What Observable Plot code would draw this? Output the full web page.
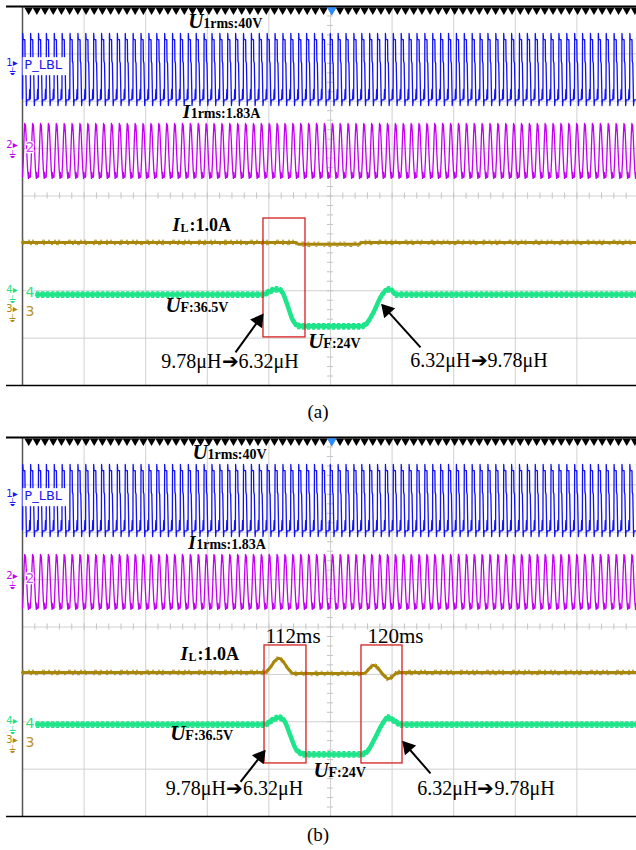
<!DOCTYPE html>
<html><head><meta charset="utf-8">
<script src="https://cdn.jsdelivr.net/npm/d3@7"></script>
<script src="https://cdn.jsdelivr.net/npm/@observablehq/plot@0.6"></script>
<style>
body{margin:0;background:#fff;width:636px;overflow:hidden}
svg{display:block}
.cap{font-family:"Liberation Serif","Times New Roman",serif;font-size:19px;text-align:center;width:636px}
g[aria-label="sub"] text{letter-spacing:1.2px}
g[aria-label="lbl"] text{letter-spacing:2.4px}
</style></head><body>
<div id="pa"></div><div class="cap" style="height:39px;line-height:39px">(a)</div>
<div id="pb"></div><div class="cap" style="height:24px;line-height:24px">(b)</div>
<script>
// ---- screen: 10 x 8 divisions, right edge cropped ----
const X_MAX = 614 / 61.6;
const PX_X = 61.6, PX_Y = 47.4;
const gridX = [1,2,3,4,5,6,7,8,9];
const gridY = [-3,-2,-1,0,1,2,3];

const cyclePeriod = 0.128;
const ch1Cycle = [[0.00,2.05],[0.03,3.43],[0.08,3.30],[0.30,3.30],[0.33,2.85],[0.40,2.80],[0.44,2.45],[0.50,1.91],[0.56,2.03],[0.86,2.03],[0.92,2.25]];
const ch2Cycle = [[0.00,0.40],[0.10,0.75],[0.20,1.25],[0.28,1.53],[0.33,1.38],[0.38,1.50],[0.45,1.30],[0.55,0.90],[0.65,0.55],[0.75,0.37],[0.80,0.50],[0.86,0.39]];

// ---- slow channels: key points (div, div) ----
const ilA = [[0,-0.98],[4.44,-0.98],[4.48,-1.02],[5.47,-1.02],[5.50,-0.98],[X_MAX,-0.98]];
const ufA = [[0.23,-2.08],[3.91,-2.08],[4.00,-2.02],[4.12,-1.97],[4.20,-2.00],[4.30,-2.30],[4.38,-2.60],[4.48,-2.74],[4.55,-2.75],[5.49,-2.75],[5.58,-2.70],[5.70,-2.45],[5.82,-2.12],[5.94,-1.97],[6.00,-2.00],[6.06,-2.08],[X_MAX,-2.08]];
const ilB = [[0,-0.96],[3.93,-0.96],[4.16,-0.66],[4.40,-0.98],[5.54,-0.98],[5.70,-0.81],[5.94,-1.09],[6.10,-0.96],[X_MAX,-0.96]];
const ufB = [[0.23,-2.06],[3.93,-2.06],[4.05,-1.97],[4.16,-1.91],[4.25,-1.98],[4.35,-2.30],[4.45,-2.60],[4.59,-2.69],[5.49,-2.69],[5.60,-2.62],[5.72,-2.35],[5.84,-2.05],[5.93,-1.91],[6.02,-1.97],[6.15,-2.06],[X_MAX,-2.06]];

// ---- annotations ----
const boxesA = [{x1:3.912,x2:4.594,y1:-2.985,y2:-0.475}];
const boxesB = [{x1:3.929,x2:4.610,y1:-2.880,y2:-0.390},{x1:5.503,x2:6.169,y1:-2.880,y2:-0.390}];
const uLabelsA = [{x:2.69,y:3.555,sub:"1rms:40V"},{x:2.32,y:-2.458,sub:"F:36.5V"},{x:4.64,y:-3.217,sub:"F:24V"}];
const uLabelsB = [{x:2.76,y:3.555,sub:"1rms:40V"},{x:2.40,y:-2.395,sub:"F:36.5V"},{x:4.724,y:-3.175,sub:"F:24V"}];
const iLabelsA = [{x:2.60,y:1.656,sub:"1rms:1.83A"}];
const iLabelsB = [{x:2.69,y:1.656,sub:"1rms:1.83A"}];
const ilLabelA = [{x:2.435,y:-0.749}];
const ilLabelB = [{x:2.565,y:-0.707}];
const noteA = [{x:3.369,y:-3.639,t:"9.78μH➔6.32μH"},{x:7.411,y:-3.618,t:"6.32μH➔9.78μH"}];
const noteB = [{x:3.442,y:-3.555,t:"9.78μH➔6.32μH"},{x:7.524,y:-3.555,t:"6.32μH➔9.78μH"}];
const arrowsA = [{x1:3.458,y1:-3.302,x2:3.880,y2:-2.542},{x1:6.461,y1:-3.196,x2:5.860,y2:-2.331}];
const arrowsB = [{x1:3.539,y1:-3.270,x2:3.912,y2:-2.648},{x1:6.623,y1:-3.091,x2:6.201,y2:-2.458}];
const timesB = [{x:4.391,y:-0.327,t:"112ms"},{x:6.055,y:-0.327,t:"120ms"}];
const channels = [
  {n:"1",y:2.76,c:"#1a1af0",inner:null},
  {n:"2",y:1.02,c:"#c400f0",inner:"#c850f0"},
  {n:"4",y:-2.04,c:"#22dd88",inner:"#30dd88"},
  {n:"3",y:-2.44,c:"#b08a10",inner:"#b89230"}
];

function tile(cycle, x0, x1) {
  const pts = [];
  for (let c = x0; c < x1; c += cyclePeriod)
    for (const [p, v] of cycle) { const x = c + p * cyclePeriod; if (x <= x1) pts.push({x, y: v}); }
  return pts;
}
const pts = a => a.map(([x, y]) => ({x, y}));
function head(a) {
  const dx = (a.x2 - a.x1) * PX_X, dy = (a.y2 - a.y1) * PX_Y, len = Math.hypot(dx, dy), f = 1 - 5 / len;
  return {x: a.x1 + (a.x2 - a.x1) * f, y: a.y1 + (a.y2 - a.y1) * f, r: Math.atan2(dx, dy) * 180 / Math.PI};
}
const serif = "Liberation Serif";

function panel(P) {
  const uf = pts(P.uf), il = pts(P.il);
  return Plot.plot({
    width: 636, height: 392, marginTop: 6, marginBottom: 7, marginLeft: 22, marginRight: 0,
    x: {domain: [0, X_MAX], axis: null},
    y: {domain: [-4, 4], axis: null},
    style: {background: "white", overflow: "visible"},
    marks: [
      Plot.ruleX(gridX, {x: d => d, stroke: "#d0d0d0", strokeWidth: 1}),
      Plot.ruleY(gridY, {y: d => d, stroke: "#d0d0d0", strokeWidth: 1}),
      Plot.ruleY(d3.range(-3.8, 4, 0.2), {y: d => d, x1: 4.95, x2: 5.05, stroke: "#c4c4c4"}),
      Plot.ruleX(d3.range(0.2, X_MAX, 0.2), {x: d => d, y1: -0.065, y2: 0.065, stroke: "#c4c4c4"}),
      Plot.ruleX([0], {x: d => d, y1: -4, y2: 4, stroke: "#555", strokeWidth: 1.5}),
      Plot.ruleY([4], {y: d => d, x1: -16 / PX_X, x2: X_MAX, stroke: "black", strokeWidth: 2}),
      Plot.ruleY([-4], {y: d => d, x1: -16 / PX_X, x2: X_MAX, stroke: "black", strokeWidth: 1.5}),
      Plot.dot(d3.range(0.1, X_MAX, 0.133), {x: d => d, y: 4, symbol: "triangle", rotate: 180, r: 3.2, fill: "black", dy: 3.5}),
      Plot.dot([5.02], {x: d => d, y: 4, symbol: "triangle", rotate: 180, r: 3.6, fill: "#2a8cff", dy: 3.5}),
      // waveforms
      Plot.line(tile(ch1Cycle, 0, X_MAX), {x: "x", y: "y", stroke: "#1212f2", strokeWidth: 1.3}),
      Plot.line(tile(ch2Cycle, 0, X_MAX), {x: "x", y: "y", stroke: "#c400f2", strokeWidth: 1.3}),
      Plot.line(il, {x: "x", y: "y", stroke: "#a8860a", strokeWidth: 3, curve: "monotone-x"}),
      Plot.line(il, {x: "x", y: "y", stroke: "#a8860a", strokeWidth: 1, dy: -2.2, strokeDasharray: "1,5,1,3,1,9,2,4", curve: "monotone-x"}),
      Plot.line(il, {x: "x", y: "y", stroke: "#a8860a", strokeWidth: 1, dy: 2.2, strokeDasharray: "1,7,1,4,2,6", curve: "monotone-x"}),
      Plot.line(uf, {x: "x", y: "y", stroke: "#1ee58a", strokeWidth: 4.5, curve: "monotone-x"}),
      Plot.line(uf, {x: "x", y: "y", stroke: "#1ee58a", strokeWidth: 1.6, dy: -2.6, strokeDasharray: "2,3", curve: "monotone-x"}),
      Plot.line(uf, {x: "x", y: "y", stroke: "#1ee58a", strokeWidth: 1.6, dy: 2.6, strokeDasharray: "2,3", curve: "monotone-x"}),
      // P_LBL tag
      Plot.rect([{x1: 0.01, x2: 0.73, y1: 2.54, y2: 2.92}], {x1: "x1", x2: "x2", y1: "y1", y2: "y2", fill: "white"}),
      Plot.text(["P_LBL"], {x: 0.03, y: 2.76, text: d => d, textAnchor: "start", fill: "#1a1af0", fontSize: 13, fontFamily: "DejaVu Sans", ariaLabel: "lbl"}),
      // channel markers (number, arrow, ground)
      Plot.text(channels, {x: -0.17, y: "y", text: d => d.n + "▸\n⏚", fill: "c", fontSize: 10, lineHeight: 0.95, lineAnchor: "top", dy: -6, fontFamily: "DejaVu Sans"}),
      Plot.text(channels.filter(d => d.inner), {x: 0.05, y: "y", text: "n", fill: "inner", stroke: "white", strokeWidth: 2.5, textAnchor: "start", fontSize: 14, fontFamily: "DejaVu Sans"}),
      // red boxes
      Plot.rect(P.boxes, {x1: "x1", x2: "x2", y1: "y1", y2: "y2", fill: "none", stroke: "#d42020", strokeWidth: 1.3}),
      // labels
      Plot.text(P.u, {x: "x", y: "y", text: () => "U", textAnchor: "start", fontFamily: serif, fontWeight: "bold", fontStyle: "italic", fontSize: 21, dy: -6.7}),
      Plot.text(P.u, {x: "x", y: "y", text: "sub", textAnchor: "start", fontFamily: serif, fontWeight: "bold", fontSize: 14, dx: 15, dy: -4.5, ariaLabel: "sub"}),
      Plot.text(P.i, {x: "x", y: "y", text: () => "I", textAnchor: "start", fontFamily: serif, fontWeight: "bold", fontStyle: "italic", fontSize: 19, dy: -6.1}),
      Plot.text(P.i, {x: "x", y: "y", text: "sub", textAnchor: "start", fontFamily: serif, fontWeight: "bold", fontSize: 14, dx: 8, dy: -4.5, ariaLabel: "sub"}),
      Plot.text(P.ilLabel, {x: "x", y: "y", text: () => "I", textAnchor: "start", fontFamily: serif, fontWeight: "bold", fontStyle: "italic", fontSize: 19, dy: -6.1}),
      Plot.text(P.ilLabel, {x: "x", y: "y", text: () => "L", textAnchor: "start", fontFamily: serif, fontWeight: "bold", fontSize: 12, dx: 8, dy: -3.8}),
      Plot.text(P.ilLabel, {x: "x", y: "y", text: () => ":1.0A", textAnchor: "start", fontFamily: serif, fontWeight: "bold", fontSize: 18, dx: 17, dy: -5.8, ariaLabel: "sub"}),
      Plot.text(P.notes, {x: "x", y: "y", text: "t", fontFamily: serif, fontSize: 20, dy: -6.4}),
      Plot.text(P.times, {x: "x", y: "y", text: "t", fontFamily: serif, fontSize: 21, dy: -6.7}),
      // arrows
      Plot.link(P.arrows, {x1: "x1", y1: "y1", x2: d => head(d).x, y2: d => head(d).y, stroke: "black", strokeWidth: 2}),
      Plot.dot(P.arrows, {x: d => head(d).x, y: d => head(d).y, rotate: d => head(d).r, symbol: "triangle", r: 5.5, fill: "black"})
    ]
  });
}

document.getElementById("pa").append(panel({il: ilA, uf: ufA, boxes: boxesA, u: uLabelsA, i: iLabelsA, ilLabel: ilLabelA, notes: noteA, arrows: arrowsA, times: []}));
document.getElementById("pb").append(panel({il: ilB, uf: ufB, boxes: boxesB, u: uLabelsB, i: iLabelsB, ilLabel: ilLabelB, notes: noteB, arrows: arrowsB, times: timesB}));
</script>
</body></html>
